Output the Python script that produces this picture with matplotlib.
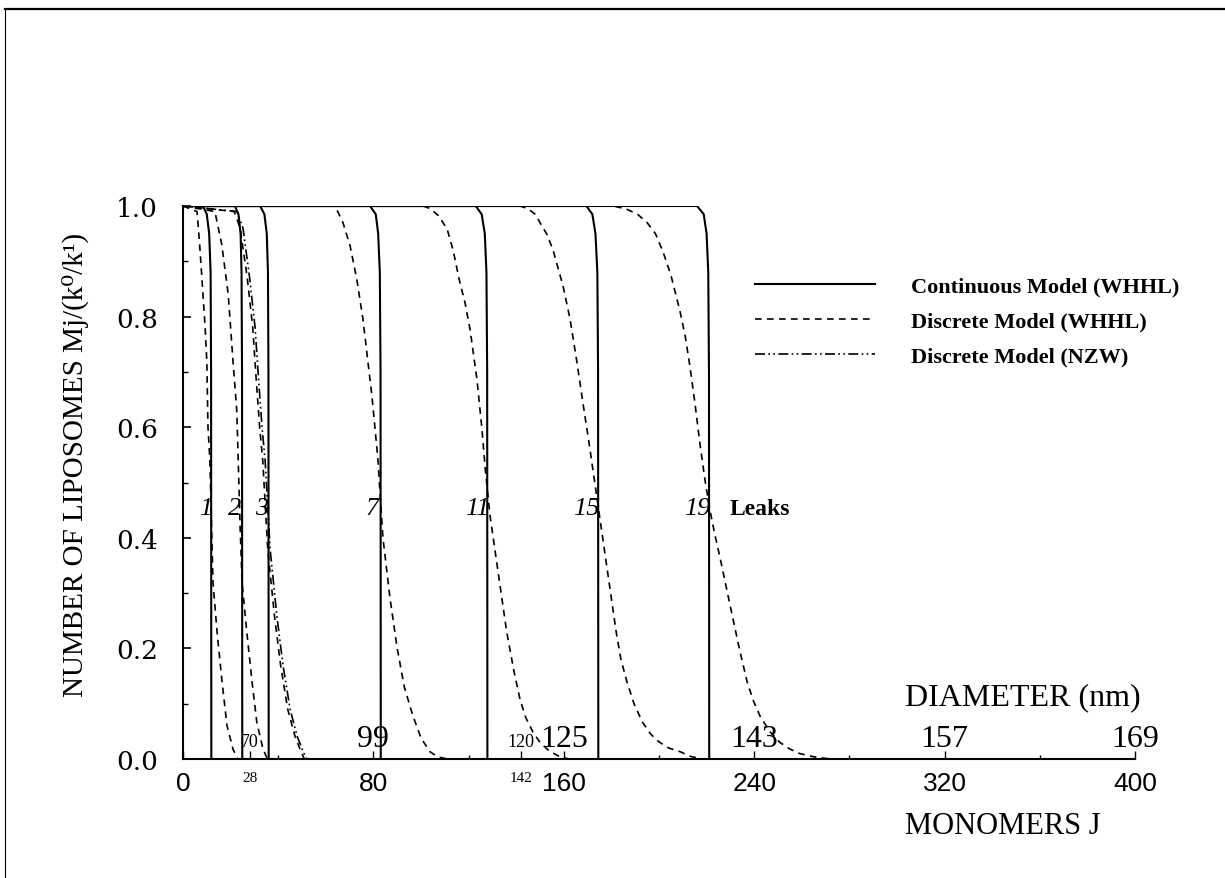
import matplotlib
matplotlib.use("Agg")
import matplotlib.pyplot as plt
from matplotlib.lines import Line2D
from matplotlib.ticker import FixedLocator, MultipleLocator

# Continuous model (WHHL), one curve per time label
cont1_j = [0, 8.4, 10.0, 11.0, 11.6, 11.8, 11.9]
cont1_m = [1, 1, 0.985, 0.95, 0.88, 0.7, 0]
cont2_j = [0, 21.8, 23.3, 24.2, 24.6, 24.8, 24.9]
cont2_m = [1, 1, 0.985, 0.95, 0.88, 0.7, 0]
cont3_j = [0, 32.4, 34.2, 35.2, 35.7, 35.9, 36.0]
cont3_m = [1, 1, 0.985, 0.95, 0.88, 0.7, 0]
cont7_j = [0, 78.6, 81.0, 82.0, 82.7, 83.0, 83.1]
cont7_m = [1, 1, 0.985, 0.95, 0.88, 0.7, 0]
cont11_j = [0, 123.0, 125.5, 126.8, 127.5, 127.8, 127.9]
cont11_m = [1, 1, 0.985, 0.95, 0.88, 0.7, 0]
cont15_j = [0, 169.5, 172.0, 173.3, 174.1, 174.4, 174.5]
cont15_m = [1, 1, 0.985, 0.95, 0.88, 0.7, 0]
cont19_j = [0, 216.0, 218.8, 220.0, 220.7, 221.0, 221.1]
cont19_m = [1, 1, 0.985, 0.95, 0.88, 0.7, 0]

# Discrete model (WHHL)
disc1_j = [0, 5.9, 7.0, 8.4, 9.3, 10.0, 10.5, 11.3, 12.0, 12.6, 14.3, 16.4, 18.5, 21.0, 23.0]
disc1_m = [1, 0.99, 0.93, 0.84, 0.78, 0.72, 0.6, 0.54, 0.42, 0.32, 0.23, 0.14, 0.06, 0.018, 0]
disc2_j = [0, 13.4, 16.3, 19.0, 21.0, 22.6, 23.2, 24.0, 24.8, 26.8, 29.0, 31.0, 33.6, 35.5]
disc2_m = [1, 0.99, 0.93, 0.84, 0.72, 0.63, 0.54, 0.42, 0.32, 0.23, 0.14, 0.067, 0.018, 0]
disc3_j = [0, 21.5, 24.0, 27.0, 29.3, 30.7, 32.2, 33.5, 35.6, 38.4, 41.0, 44.0, 47.0, 49.5, 51.0]
disc3_m = [1, 0.99, 0.96, 0.87, 0.78, 0.69, 0.6, 0.54, 0.38, 0.26, 0.17, 0.09, 0.042, 0.014, 0]
disc7_j = [0, 63.0, 65.0, 67.2, 70.2, 73.0, 75.6, 77.7, 79.4, 80.7, 82.0, 82.8, 84.0, 87.0,
           90.0, 93.0, 96.6, 100.0, 103.8, 107.0, 111.0]
disc7_m = [1, 1, 0.99, 0.97, 0.928, 0.868, 0.796, 0.718, 0.656, 0.597, 0.537, 0.48, 0.4,
           0.29, 0.2, 0.13, 0.078, 0.038, 0.013, 0.004, 0]
disc11_j = [0, 101.0, 104.0, 107.5, 111.0, 113.5, 116.0, 118.5, 120.6, 123.5, 125.6, 127.0,
            129.0, 132.0, 134.0, 136.0, 139.0, 141.6, 144.0, 147.0, 150.0, 154.0, 158.0, 162.0]
disc11_m = [1, 1, 0.995, 0.982, 0.958, 0.92, 0.868, 0.825, 0.777, 0.687, 0.597, 0.524,
            0.44, 0.35, 0.29, 0.23, 0.16, 0.108, 0.075, 0.049, 0.03, 0.014, 0.005, 0]
disc15_j = [0, 141.6, 145.0, 148.0, 150.0, 153.0, 155.5, 159.7, 162.6, 165.5, 168.0, 171.0,
            173.0, 175.0, 178.0, 180.0, 182.0, 184.0, 186.5, 189.5, 193.0, 196.5, 200.0,
            204.0, 209.0, 213.0, 218.0]
disc15_m = [1, 1, 0.995, 0.985, 0.97, 0.948, 0.92, 0.855, 0.796, 0.718, 0.645, 0.56,
            0.5, 0.44, 0.35, 0.29, 0.23, 0.18, 0.14, 0.1, 0.067, 0.045, 0.031,
            0.02, 0.013, 0.005, 0]
disc19_j = [0, 180.7, 186.0, 191.0, 195.0, 198.5, 201.7, 205.0, 208.8, 211.0, 213.0, 215.2,
            217.2, 219.3, 221.4, 223.5, 225.6, 228.3, 231.0, 234.0, 237.0, 239.7, 242.4,
            246.5, 250.8, 255.0, 259.0, 265.0, 272.0]
disc19_m = [1, 1, 0.995, 0.985, 0.97, 0.95, 0.917, 0.875, 0.81, 0.765, 0.71, 0.64,
            0.57, 0.505, 0.45, 0.405, 0.365, 0.31, 0.255, 0.195, 0.14, 0.105, 0.078,
            0.05, 0.03, 0.018, 0.01, 0.004, 0]

# Discrete model (NZW), only computed for t = 3
nzw3_j = [0, 22.7, 25.2, 28.0, 30.3, 31.7, 33.2, 34.5, 36.6, 39.4, 42.0, 45.0, 47.9, 50.4, 52.0]
nzw3_m = [1, 0.99, 0.96, 0.87, 0.78, 0.69, 0.6, 0.54, 0.38, 0.26, 0.17, 0.09, 0.042, 0.014, 0]

# curve labels and where they sit
time_labels = ["1", "2", "3", "7", "11", "15", "19"]
time_label_j = [9.5, 21.8, 33.0, 79.5, 123.5, 169.5, 216.0]
time_label_m = 0.443

# lower axis (monomers) and diameter scale drawn on the same axis
monomer_ticks = [0, 28, 80, 142, 160, 240, 320, 400]
diameter_labels = ["70", "99", "120", "125", "143", "157", "169"]
diameter_j = [28, 80, 142, 160, 240, 320, 400]
small_ticks = [28, 142]

fig = plt.figure(figsize=(12.25, 8.79), dpi=100)
ax = fig.add_axes([183 / 1225, 1 - 760 / 879, 952 / 1225, 553 / 879])

solid = dict(color="black", lw=1.5, ls="-")
dashed = dict(color="black", lw=1.2, ls=(0, (4, 3.2)))
dashdot = dict(color="black", lw=1.2, ls=(0, (6, 2, 1, 2, 1, 2)))

ax.plot(cont1_j, cont1_m, label="Continuous Model (WHHL)", **solid)
for j, m in [(cont2_j, cont2_m), (cont3_j, cont3_m), (cont7_j, cont7_m),
             (cont11_j, cont11_m), (cont15_j, cont15_m), (cont19_j, cont19_m)]:
    ax.plot(j, m, **solid)

ax.plot(disc1_j, disc1_m, label="Discrete Model (WHHL)", **dashed)
for j, m in [(disc2_j, disc2_m), (disc3_j, disc3_m), (disc7_j, disc7_m),
             (disc11_j, disc11_m), (disc15_j, disc15_m), (disc19_j, disc19_m)]:
    ax.plot(j, m, **dashed)

ax.plot(nzw3_j, nzw3_m, label="Discrete Model (NZW)", **dashdot)

ax.set_xlim(0, 400)
ax.set_ylim(0, 1)
ax.spines["top"].set_visible(False)
ax.spines["right"].set_visible(False)
for side in ["left", "bottom"]:
    ax.spines[side].set_linewidth(1.5)

# y axis
ax.yaxis.set_major_locator(MultipleLocator(0.2))
ax.yaxis.set_minor_locator(MultipleLocator(0.1))
ax.set_yticklabels(["%.1f" % v for v in ax.get_yticks()], family="DejaVu Serif", fontsize=19)
ax.tick_params(axis="y", which="major", direction="in", length=6, width=1.2, pad=18)
ax.tick_params(axis="y", which="minor", direction="in", length=3.5, width=1.0)

# x axis
ax.xaxis.set_major_locator(FixedLocator(monomer_ticks))
ax.xaxis.set_minor_locator(FixedLocator([40, 120, 200, 280, 360]))
ax.set_xticklabels([str(t) for t in monomer_ticks], family="Liberation Sans", fontsize=19)
for t, lab in zip(monomer_ticks, ax.get_xticklabels()):
    if t in small_ticks:
        lab.set_fontsize(11)
        lab.set_family("Liberation Serif")
ax.tick_params(axis="x", which="major", direction="in", length=6, width=1.0, pad=9)
ax.tick_params(axis="x", which="minor", direction="in", length=3, width=1.0)

# diameter values written just above the J axis
for d, j in zip(diameter_labels, diameter_j):
    size = 13 if d in ("70", "120") else 23
    ax.text(j, 0.024, d, ha="center", va="baseline", fontsize=size, family="Liberation Serif")

for lab, j in zip(time_labels, time_label_j):
    ax.text(j, time_label_m, lab, ha="center", va="baseline", fontsize=19,
            family="Liberation Serif", style="italic")
ax.text(229.5, time_label_m, "Leaks", ha="left", va="baseline", fontsize=17,
        family="Liberation Serif", weight="bold")

fig.text(905 / 1225, 1 - 705 / 879, "DIAMETER (nm)", fontsize=23, family="Liberation Serif",
         ha="left", va="baseline")
fig.text(905 / 1225, 1 - 834 / 879, "MONOMERS J", fontsize=22, family="Liberation Serif",
         ha="left", va="baseline")
fig.text(75 / 1225, 1 - 465 / 879, "NUMBER OF LIPOSOMES Mj/(k\u2070/k\u00b9)", rotation=90,
         fontsize=21, family=["Liberation Serif", "DejaVu Serif"], ha="center", va="center")

ax.legend(loc="upper left", bbox_to_anchor=(755 / 1225, 1 - 277 / 879),
          bbox_transform=fig.transFigure, frameon=False, borderpad=0, borderaxespad=0,
          handlelength=5.4, handletextpad=1.6, labelspacing=0.65,
          prop={"family": "Liberation Serif", "weight": "bold", "size": 16})

# page border
fig.add_artist(Line2D([5 / 1225, 1], [1 - 10 / 879] * 2, transform=fig.transFigure,
                      color="black", lw=1.6))
fig.add_artist(Line2D([5 / 1225] * 2, [0, 1 - 10 / 879], transform=fig.transFigure,
                      color="black", lw=0.8))

fig.savefig("out.png", dpi=100)
